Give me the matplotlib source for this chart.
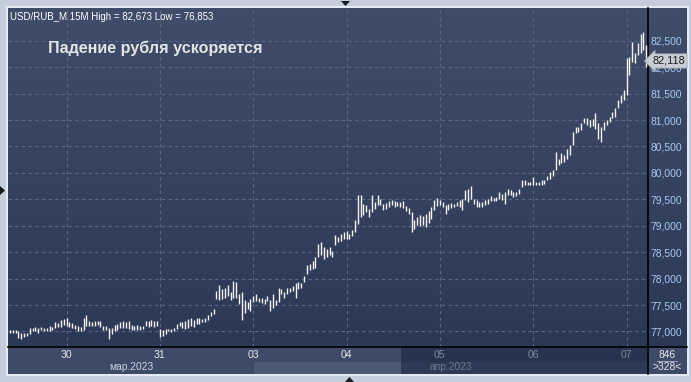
import numpy as np
import matplotlib
matplotlib.use("Agg")
import matplotlib.pyplot as plt
from matplotlib.patches import Rectangle, Polygon

# ---------------- DATA (15M bars, low/high per bar) ----------------
d29 = [(76.97, 77.03), (76.97, 77.02), (76.97, 77.02), (76.88, 77.01), (76.86, 76.98),
       (76.89, 76.97), (76.91, 76.98), (76.95, 77.07), (77.00, 77.06), (77.00, 77.09),
       (76.98, 77.07), (77.02, 77.08), (77.01, 77.07), (77.01, 77.07), (77.01, 77.10),
       (77.02, 77.08), (77.07, 77.17), (77.09, 77.16), (77.09, 77.21), (77.12, 77.24)]
d30 = [(77.10, 77.25), (77.08, 77.17), (77.07, 77.16), (77.05, 77.13), (77.01, 77.10),
       (77.00, 77.08), (77.03, 77.26), (77.10, 77.31), (77.11, 77.20), (77.10, 77.18),
       (77.11, 77.19), (77.12, 77.20), (77.08, 77.19), (77.03, 77.11), (77.02, 77.10),
       (76.86, 77.06), (76.95, 77.06), (77.00, 77.13), (77.03, 77.14), (77.06, 77.17),
       (77.07, 77.20), (77.06, 77.17), (77.04, 77.20), (77.03, 77.12), (77.02, 77.11),
       (77.03, 77.12), (77.02, 77.10), (77.04, 77.11), (77.10, 77.20), (77.09, 77.20),
       (77.10, 77.21), (77.09, 77.19), (77.10, 77.20)]
d31 = [(76.90, 77.04), (76.92, 77.02), (76.95, 77.04), (77.00, 77.05), (76.99, 77.04),
       (77.00, 77.07), (77.04, 77.15), (77.11, 77.18), (77.07, 77.17), (77.04, 77.20),
       (77.07, 77.23), (77.11, 77.25), (77.09, 77.21), (77.14, 77.25), (77.15, 77.26),
       (77.17, 77.23), (77.17, 77.26), (77.21, 77.31), (77.30, 77.37), (77.33, 77.42),
       (77.61, 77.76), (77.59, 77.88), (77.61, 77.80), (77.63, 77.82), (77.68, 77.87),
       (77.59, 77.74), (77.64, 77.96), (77.64, 77.93), (77.52, 77.71), (77.21, 77.74),
       (77.34, 77.59), (77.42, 77.55), (77.39, 77.61)]
d03 = [(77.55, 77.68), (77.58, 77.71), (77.55, 77.64), (77.53, 77.63), (77.52, 77.61),
       (77.58, 77.68), (77.39, 77.59), (77.45, 77.71), (77.50, 77.59), (77.55, 77.83),
       (77.71, 77.80), (77.63, 77.74), (77.71, 77.83), (77.74, 77.83), (77.76, 77.86),
       (77.63, 77.91), (77.80, 77.93), (77.82, 77.91), (77.93, 78.04), (78.09, 78.25),
       (78.16, 78.28), (78.18, 78.34), (78.20, 78.40), (78.40, 78.66), (78.44, 78.69),
       (78.37, 78.59), (78.40, 78.56), (78.44, 78.59), (78.40, 78.53), (78.63, 78.82),
       (78.69, 78.78), (78.72, 78.85), (78.75, 78.88)]
d04 = [(78.75, 78.91), (78.75, 78.85), (78.80, 78.92), (78.88, 79.10), (79.04, 79.59),
       (79.16, 79.58), (79.20, 79.42), (79.26, 79.39), (79.16, 79.32), (79.26, 79.58),
       (79.32, 79.45), (79.39, 79.58), (79.39, 79.51), (79.30, 79.42), (79.32, 79.43),
       (79.35, 79.47), (79.39, 79.49), (79.35, 79.47), (79.37, 79.45), (79.35, 79.45),
       (79.34, 79.47), (79.28, 79.37), (79.23, 79.34), (78.88, 79.26), (78.94, 79.10),
       (79.01, 79.16), (78.99, 79.20), (79.01, 79.18), (78.98, 79.22), (79.06, 79.28),
       (79.12, 79.35), (79.30, 79.48), (79.38, 79.52)]
d05 = [(79.39, 79.49), (79.35, 79.45), (79.23, 79.39), (79.29, 79.42), (79.34, 79.43),
       (79.35, 79.42), (79.37, 79.45), (79.35, 79.48), (79.29, 79.51), (79.48, 79.67),
       (79.45, 79.70), (79.51, 79.75), (79.42, 79.51), (79.35, 79.48), (79.35, 79.45),
       (79.36, 79.45), (79.39, 79.48), (79.42, 79.51), (79.47, 79.56), (79.47, 79.53),
       (79.47, 79.54), (79.51, 79.64), (79.48, 79.61), (79.42, 79.64), (79.58, 79.70),
       (79.58, 79.67), (79.54, 79.64), (79.56, 79.64), (79.61, 79.70), (79.73, 79.86),
       (79.77, 79.87), (79.77, 79.83), (79.77, 79.83)]
d06 = [(79.77, 79.92), (79.77, 79.83), (79.77, 79.83), (79.78, 79.86), (79.79, 79.87),
       (79.86, 79.95), (79.89, 80.02), (79.95, 80.05), (80.05, 80.40), (80.15, 80.27),
       (80.18, 80.37), (80.21, 80.34), (80.27, 80.46), (80.34, 80.53), (80.53, 80.78),
       (80.75, 80.87), (80.78, 80.87), (80.81, 80.94), (80.94, 81.03), (80.91, 81.03),
       (80.87, 81.01), (80.89, 81.02), (80.84, 81.13), (80.65, 80.94), (80.59, 80.87),
       (80.81, 80.97), (80.91, 81.00), (80.97, 81.06), (81.03, 81.16), (81.06, 81.22),
       (81.22, 81.38), (81.32, 81.48), (81.38, 81.57)]
d07 = [(81.47, 82.17), (81.85, 82.20), (82.10, 82.48), (82.07, 82.26), (82.23, 82.45),
       (82.26, 82.62), (82.33, 82.67), (82.01, 82.42)]

days = [d30, d31, d03, d04, d05, d06, d07]
day_labels = ["30", "31", "03", "04", "05", "06", "07"]
month_labels = ["мар.2023", "апр.2023"]
y_ticks = [77.0, 77.5, 78.0, 78.5, 79.0, 79.5, 80.0, 80.5, 81.0, 81.5, 82.0, 82.5]
last_price = 82.118
title = "USD/RUB_M 15M High = 82,673 Low = 76,853"
headline = "Падение рубля ускоряется"

# ---------------- LAYOUT (pixels) ----------------
W, H = 691, 382
BG_TOP, BG_BOT = "#404d6a", "#2b3856"
GRID = "#5a6885"
LBL = "#a9c9f2"
FONT = "Liberation Sans"


def px_rect(x0, y0, x1, y1):
    """pixel box (top-left origin) -> figure fraction rect"""
    return [x0 / W, 1 - y1 / H, (x1 - x0) / W, (y1 - y0) / H]


fig = plt.figure(figsize=(W / 100, H / 100), dpi=100, facecolor="#c3cddc")

# frame border
bd = fig.add_axes(px_rect(6, 6, 689, 376))
bd.set_xlim(0, 1)
bd.set_ylim(0, 1)
bd.axis("off")
bd.add_patch(Rectangle((0, 0), 1, 1, facecolor="#e6ebf2", edgecolor="none"))

# gradient background behind chart + right axis
bg = fig.add_axes(px_rect(8, 8, 687, 347))
grad = np.linspace(0, 1, 256).reshape(-1, 1)
cmap = matplotlib.colors.LinearSegmentedColormap.from_list("bg", [BG_TOP, BG_BOT])
bg.imshow(grad, aspect="auto", cmap=cmap, extent=[0, 1, 0, 1], origin="upper")
bg.axis("off")

# bottom panel
bp = fig.add_axes(px_rect(8, 347, 687, 374))
bp.set_xlim(8, 687)
bp.set_ylim(374, 347)
bp.axis("off")
bp.add_patch(Rectangle((8, 347), 679, 27, facecolor="#3e4b68", edgecolor="none"))
bp.add_patch(Rectangle((254, 362), 147, 12, facecolor="#4b5876", edgecolor="none"))
bp.add_patch(Rectangle((401, 347), 246, 27, facecolor="#28344f", edgecolor="none"))
bp.add_patch(Rectangle((401, 362), 246, 12, facecolor="#2e3a55", edgecolor="none"))

# ---------------- MAIN CHART ----------------
ax = fig.add_axes(px_rect(8, 8, 648, 347))
ax.patch.set_alpha(0)

bars = d29 + [b for d in days for b in d]
lo = np.array([b[0] for b in bars])
hi = np.array([b[1] for b in bars])
idx = np.arange(len(bars))

# day start positions derived from the data lengths
starts = []
pos = len(d29)
for d in days:
    starts.append(pos)
    pos += len(d)

for s in starts:
    ax.axvline(s, color=GRID, lw=0.8, ls=(0, (3, 3)), zorder=1)
for t in y_ticks:
    ax.axhline(t, color=GRID, lw=0.8, ls=(0, (3, 3)), zorder=1)

ax.vlines(idx, lo, hi, color="#f4f1ee", lw=1.0, zorder=3)

ax.set_xlim(-0.7, len(bars) - 0.4)
ax.set_ylim(76.706, 83.12)
ax.set_xticks([])
ax.yaxis.tick_right()
ax.set_yticks(y_ticks)
ax.set_yticklabels([f"{t:.3f}".replace(".", ",") for t in y_ticks],
                   color=LBL, fontsize=7.4, family=FONT)
ax.tick_params(axis="y", length=0, pad=2)
for sp in ax.spines.values():
    sp.set_visible(False)
for side in ["right", "bottom"]:
    ax.spines[side].set_visible(True)
    ax.spines[side].set_color("black")
    ax.spines[side].set_linewidth(1.2)

# headline + title
ax.text(0.003, 0.988, title, transform=ax.transAxes, color="white", fontsize=7,
        family=FONT, va="top", ha="left")
ax.text(0.062, 0.88, headline, transform=ax.transAxes, color="#e3e3e3", fontsize=11.6,
        family=FONT, fontweight="bold", va="center", ha="left")

# last price tag
ax.annotate(f"{last_price:.3f}".replace(".", ","), xy=(1.0, last_price),
            xycoords=("axes fraction", "data"), xytext=(3, 0), textcoords="offset points",
            va="center", ha="left", fontsize=7.8, family=FONT, color="#1c1c1c",
            annotation_clip=False, zorder=10,
            bbox=dict(boxstyle="larrow,pad=0.2", fc="#c8ccd4", ec="#9aa0aa", lw=0.5))

# black lines across bottom panel / right panel
fig.add_artist(plt.Line2D([648 / W, 648 / W], [1 - 374 / H, 1 - 347 / H],
                          color="black", lw=1.2))
fig.add_artist(plt.Line2D([648 / W, 687 / W], [1 - 347 / H, 1 - 347 / H],
                          color="black", lw=1.2))

# day and month labels (data coordinates of main axis)
x_to_px = lambda i: 8 + (i - ax.get_xlim()[0]) / (ax.get_xlim()[1] - ax.get_xlim()[0]) * 640
for i, (s, lab) in enumerate(zip(starts, day_labels)):
    col = "#e8e8e8" if i < 4 else "#7c879f"
    bp.text(x_to_px(s), 355, lab, color=col, fontsize=7.6, family=FONT,
            ha="center", va="center")
bp.text(x_to_px(starts[1] - 10), 367.5, month_labels[0], color="#c9d3e3",
        fontsize=7.4, family=FONT, ha="center", va="center")
bp.text(x_to_px(starts[4] + 4), 367.5, month_labels[1], color="#6e7a93",
        fontsize=7.4, family=FONT, ha="center", va="center")
bp.text(667, 354.5, "846", color="#e8e8e8", fontsize=7.4, family=FONT,
        ha="center", va="center")
bp.plot([657, 677], [360.5, 360.5], color="#aab4c6", lw=0.6)
bp.text(667, 367.5, ">328<", color="#e8e8e8", fontsize=7.4, family=FONT,
        ha="center", va="center")

# small navigation triangles on the frame
ov = fig.add_axes([0, 0, 1, 1])
ov.set_xlim(0, W)
ov.set_ylim(H, 0)
ov.axis("off")
ov.patch.set_alpha(0)
ov.add_patch(Polygon([[341, 1], [350, 1], [345.5, 6]], closed=True, fc="#1a1a1a", ec="none"))
ov.add_patch(Polygon([[345, 382], [354, 382], [349.5, 377]], closed=True, fc="#1a1a1a", ec="none"))
ov.add_patch(Polygon([[0, 186], [0, 195], [5, 190.5]], closed=True, fc="#1a1a1a", ec="none"))

fig.savefig("out.png", dpi=100, facecolor=fig.get_facecolor())
